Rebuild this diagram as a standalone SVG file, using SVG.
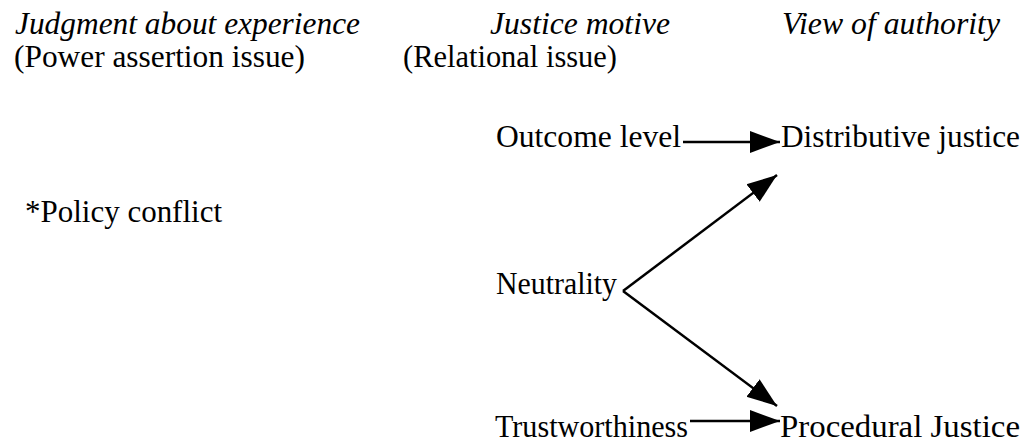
<svg xmlns="http://www.w3.org/2000/svg" width="1033" height="447" viewBox="0 0 1033 447">
<style>
.c{stroke:#000;stroke-width:2.5;fill:none}
</style>
<defs>
<marker id="ah" markerUnits="userSpaceOnUse" markerWidth="32" markerHeight="24" refX="30" refY="11" orient="auto" viewBox="0 0 32 22">
<path d="M0,0 L30,11 L0,22 Z" fill="#000"/>
</marker>
</defs>
<rect width="1033" height="447" fill="#fff"/>
<g font-family="Liberation Serif, serif" font-size="31" fill="#000">
<g id="headers">
<text font-style="italic" x="15" y="34" textLength="345" lengthAdjust="spacingAndGlyphs">Judgment about experience</text>
<text x="14" y="67" textLength="291" lengthAdjust="spacingAndGlyphs">(Power assertion issue)</text>
<text font-style="italic" x="490" y="34" textLength="180" lengthAdjust="spacingAndGlyphs">Justice motive</text>
<text x="403" y="67" textLength="214" lengthAdjust="spacingAndGlyphs">(Relational issue)</text>
<text font-style="italic" x="782" y="34" textLength="218" lengthAdjust="spacingAndGlyphs">View of authority</text>
</g>
<g id="policy"><text x="25" y="222" textLength="197" lengthAdjust="spacingAndGlyphs">*Policy conflict</text></g>
<g id="outcome"><text x="496" y="147" textLength="185" lengthAdjust="spacingAndGlyphs">Outcome level</text></g>
<g id="distributive"><text x="781" y="147" textLength="239" lengthAdjust="spacingAndGlyphs">Distributive justice</text></g>
<g id="neutrality"><text x="496" y="294" textLength="121" lengthAdjust="spacingAndGlyphs">Neutrality</text></g>
<g id="trust"><text x="495" y="437" textLength="193" lengthAdjust="spacingAndGlyphs">Trustworthiness</text></g>
<g id="procedural"><text x="780" y="437" textLength="240" lengthAdjust="spacingAndGlyphs">Procedural Justice</text></g>
</g>
<g id="connectors">
<line class="c" x1="683" y1="142" x2="780" y2="142" marker-end="url(#ah)"/>
<line class="c" x1="623" y1="291" x2="777" y2="175" marker-end="url(#ah)"/>
<line class="c" x1="623" y1="291" x2="777" y2="406" marker-end="url(#ah)"/>
<line class="c" x1="690" y1="421" x2="780" y2="421" marker-end="url(#ah)"/>
</g>
</svg>
